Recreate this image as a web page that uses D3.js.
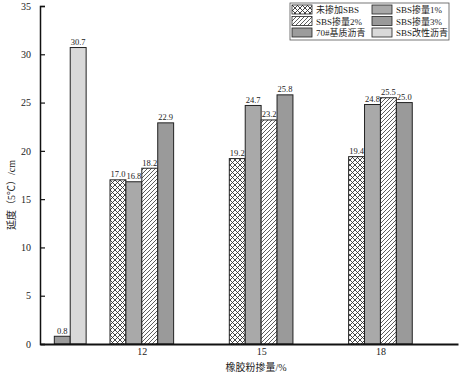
<!DOCTYPE html>
<html>
<head>
<meta charset="utf-8">
<script src="https://cdn.jsdelivr.net/npm/d3@7"></script>
<style>
  html, body { margin: 0; padding: 0; background: #fff; }
  svg { display: block; }
</style>
</head>
<body>
<div id="chart"></div>
<script>
// rubber powder content (x categories) and SBS series
const contents = [12, 15, 18];
const sbsSeries = ['未掺加SBS', 'SBS掺量1%', 'SBS掺量2%', 'SBS掺量3%'];
const sbsValues = [
  [17.0, 16.8, 18.2, 22.9],   // 12
  [19.2, 24.7, 23.2, 25.8],   // 15
  [19.4, 24.8, 25.5, 25.0]    // 18
];
// reference asphalts, drawn as a separate group left of 12
const refSeries = ['70#基质沥青', 'SBS改性沥青'];
const refValues = [0.8, 30.7];
const refPos = 10.2;
const yTicks = [0, 5, 10, 15, 20, 25, 30, 35];
const legendOrder = ['未掺加SBS', 'SBS掺量1%', 'SBS掺量2%', 'SBS掺量3%', '70#基质沥青', 'SBS改性沥青'];

const W = 460, H = 373;
const SERIF = '"Liberation Serif", "DejaVu Serif", serif';
const CJK = '"Noto Sans CJK SC", sans-serif';
const MIXED = '"Liberation Serif", "Noto Sans CJK SC", serif';

const fills = {
  '未掺加SBS': 'url(#cross)',
  'SBS掺量1%': '#a9a9a9',
  'SBS掺量2%': 'url(#diag)',
  'SBS掺量3%': '#9a9a9a',
  '70#基质沥青': '#9c9c9c',
  'SBS改性沥青': '#d9d9d9'
};

const svg = d3.select('#chart').append('svg')
  .attr('width', W).attr('height', H);

const defs = svg.append('defs');
const cross = defs.append('pattern').attr('id', 'cross')
  .attr('patternUnits', 'userSpaceOnUse').attr('width', 5).attr('height', 5);
cross.append('rect').attr('width', 5).attr('height', 5).attr('fill', '#fff');
cross.append('path').attr('d', 'M0,0L5,5M5,0L0,5')
  .attr('stroke', '#333').attr('stroke-width', 0.9);
const diag = defs.append('pattern').attr('id', 'diag')
  .attr('patternUnits', 'userSpaceOnUse').attr('width', 4).attr('height', 4);
diag.append('rect').attr('width', 4).attr('height', 4).attr('fill', '#fff');
diag.append('path').attr('d', 'M-1,5L5,-1M-1,1L1,-1M3,5L5,3')
  .attr('stroke', '#333').attr('stroke-width', 0.8);

const x = d3.scaleLinear().domain([9.44, 19.95]).range([40, 458]);
const y = d3.scaleLinear().domain([0, 35]).range([344, 6]);
const bw = 0.4;

function bar(x0, v, name) {
  svg.append('rect')
    .attr('x', x(x0)).attr('y', y(v))
    .attr('width', x(x0 + bw) - x(x0)).attr('height', y(0) - y(v))
    .attr('fill', fills[name]).attr('stroke', '#222').attr('stroke-width', 1);
  svg.append('text')
    .attr('x', x(x0 + bw / 2)).attr('y', y(v) - 2.5)
    .attr('text-anchor', 'middle')
    .style('font-family', SERIF).style('font-size', '8.5px').attr('fill', '#222')
    .text(v.toFixed(1));
}

// reference group
refValues.forEach((v, i) => bar(refPos - bw + i * bw, v, refSeries[i]));

// SBS groups
contents.forEach((c, gi) => {
  sbsValues[gi].forEach((v, si) => bar(c - 2 * bw + si * bw, v, sbsSeries[si]));
});

// Y axis
const yAxis = svg.append('g').attr('transform', `translate(${x.range()[0]},0)`)
  .call(d3.axisRight(y).tickValues(yTicks).tickSize(5).tickFormat(d3.format('d')));
yAxis.select('.domain').attr('stroke', '#111').attr('stroke-width', 1.5);
yAxis.selectAll('line').attr('stroke', '#111').attr('stroke-width', 1.2);
yAxis.selectAll('text')
  .attr('x', -9).attr('text-anchor', 'end')
  .style('font-family', SERIF).style('font-size', '10px').attr('fill', '#222');

// X axis
const xAxis = svg.append('g').attr('transform', `translate(0,${y(0)})`)
  .call(d3.axisBottom(x).tickValues(contents).tickSize(0).tickFormat(d3.format('d')));
xAxis.select('.domain').attr('stroke', '#111').attr('stroke-width', 2);
xAxis.selectAll('text').attr('y', 4).attr('dy', '0.71em')
  .style('font-family', SERIF).style('font-size', '10px').attr('fill', '#222');

// axis titles
svg.append('text')
  .attr('x', 256).attr('y', 371).attr('text-anchor', 'middle')
  .style('font-family', MIXED).style('font-size', '10px').attr('fill', '#222')
  .text('橡胶粉掺量/%');
svg.append('text')
  .attr('transform', 'translate(15,195) rotate(-90)').attr('text-anchor', 'middle')
  .style('font-family', MIXED).style('font-size', '10px').attr('fill', '#222')
  .text('延度（5℃）/cm');

// legend
const lg = svg.append('g').attr('transform', 'translate(290,3)');
lg.append('rect').attr('width', 159).attr('height', 37)
  .attr('fill', '#fff').attr('stroke', '#555').attr('stroke-width', 0.8);
const leftCol = [legendOrder[0], legendOrder[2], legendOrder[4]];
const rightCol = [legendOrder[1], legendOrder[3], legendOrder[5]];
[leftCol, rightCol].forEach((col, ci) => {
  col.forEach((name, ri) => {
    const gx = 2 + ci * 80, gy = 2 + ri * 11.5;
    lg.append('rect').attr('x', gx).attr('y', gy).attr('width', 20).attr('height', 9)
      .attr('fill', fills[name]).attr('stroke', '#222').attr('stroke-width', 0.8);
    lg.append('text').attr('x', gx + 24).attr('y', gy + 8)
      .style('font-family', MIXED).style('font-size', '9px').attr('fill', '#222')
      .text(name);
  });
});
</script>
</body>
</html>
